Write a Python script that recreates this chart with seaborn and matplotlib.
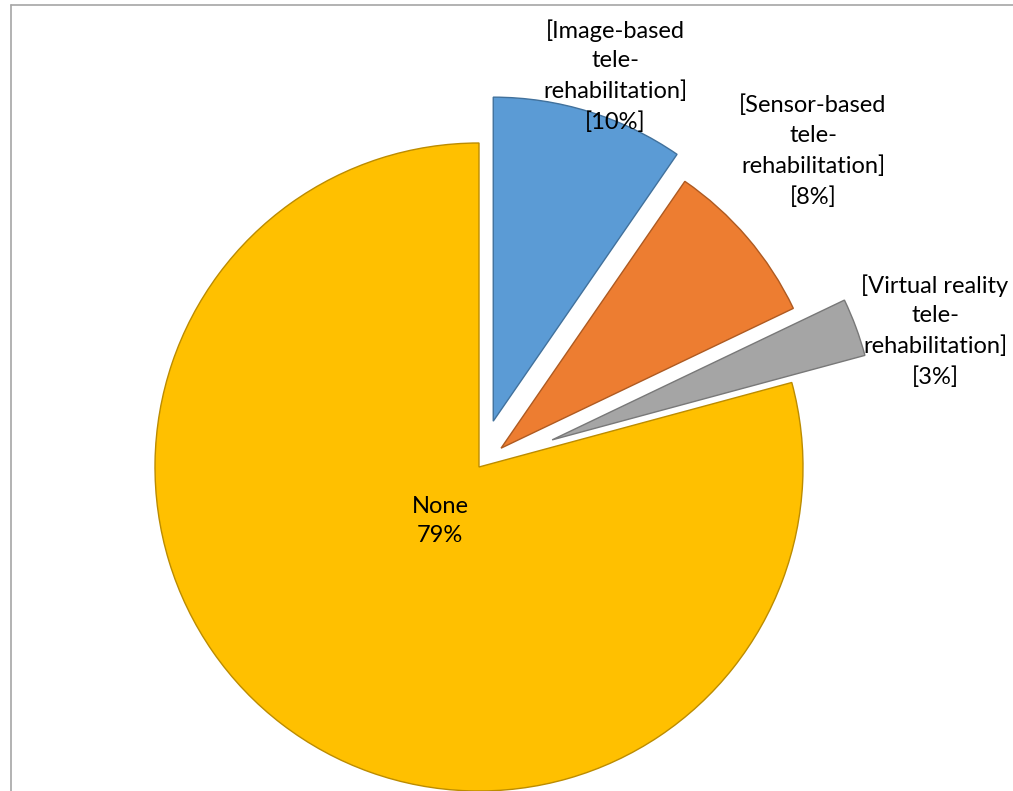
import matplotlib.pyplot as plt
import seaborn as sns
from matplotlib.lines import Line2D

# share of respondents per tele-rehabilitation type
categories = ['Image-based\ntele-\nrehabilitation', 'Sensor-based\ntele-\nrehabilitation',
              'Virtual reality\ntele-\nrehabilitation', 'None']
shares = [9.6, 8.3, 2.9, 79.2]
colors = ['#5B9BD5', '#ED7D31', '#A5A5A5', '#FFC000']
edges = ['#41719C', '#AE5A21', '#787878', '#BC8C00']

W, H = 1013, 791
sns.set_theme(style='white')
plt.rcParams['font.family'] = ['Lato', 'DejaVu Sans']

fig = plt.figure(figsize=(W / 100, H / 100), dpi=100)
ax = fig.add_axes([0, 0, 1, 1])

R = 324
cx, cy = 479, H - 467
explode = [48, 29, 78, 0]
wedges, _ = ax.pie(shares, colors=colors, startangle=90, counterclock=False,
                   explode=explode, radius=R, center=(cx, cy),
                   wedgeprops=dict(linewidth=1.0))
for w, ec in zip(wedges, edges):
    w.set_edgecolor(ec)

ax.set_xlim(0, W)
ax.set_ylim(0, H)
ax.set_aspect('auto')
ax.axis('off')

# label positions (pixel coords from top-left)
label_pos = [(615, 76), (813, 151), (935, 331)]
for (lx, ly), name, v in zip(label_pos, categories, shares):
    ax.text(lx, H - ly, '[' + name + ']\n[%.0f%%]' % v, ha='center', va='center',
            fontsize=17, linespacing=1.52, color='#000000')
ax.text(440, H - 521, categories[3] + '\n%.0f%%' % shares[3], ha='center', va='center',
        fontsize=17, linespacing=1.52, color='#000000')

# chart-area border (top and left)
fig.add_artist(Line2D([11 / W, 1], [1 - 5 / H, 1 - 5 / H], color='#A6A6A6', lw=1.2))
fig.add_artist(Line2D([11 / W, 11 / W], [0, 1 - 5 / H], color='#A6A6A6', lw=1.2))

fig.savefig('out.png', dpi=100)
